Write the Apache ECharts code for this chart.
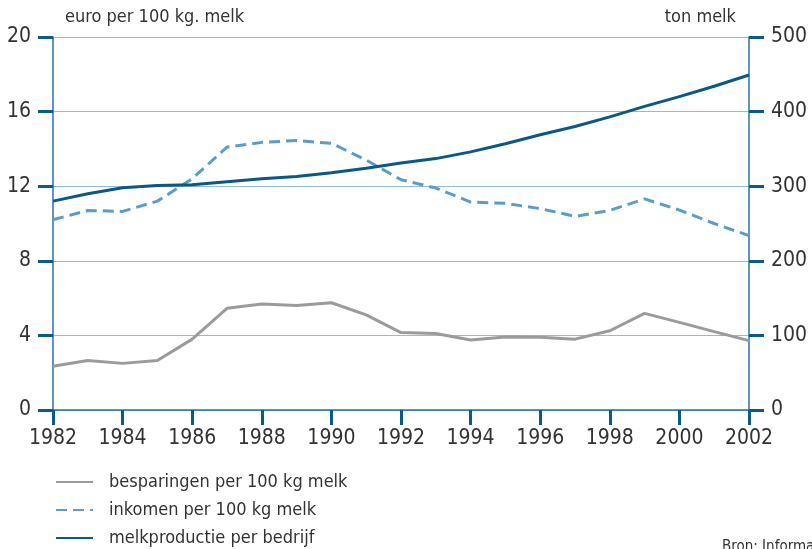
<!DOCTYPE html>
<html>
<head>
<meta charset="utf-8">
<script src="https://cdn.jsdelivr.net/npm/echarts@6/dist/echarts.min.js"></script>
<style>
  html, body { margin: 0; padding: 0; background: #fff; }
  #chart { width: 812px; height: 549px; }
</style>
</head>
<body>
<div id="chart"></div>
<script>
// Jaren 1982–2002
const years = [1982, 1983, 1984, 1985, 1986, 1987, 1988, 1989, 1990, 1991, 1992,
               1993, 1994, 1995, 1996, 1997, 1998, 1999, 2000, 2001, 2002];

// euro per 100 kg melk (linkeras)
const besparingen = [2.35, 2.65, 2.5, 2.65, 3.8, 5.45, 5.68, 5.6, 5.75, 5.1, 4.15,
                     4.1, 3.75, 3.92, 3.9, 3.8, 4.25, 5.18, 4.7, 4.2, 3.72];
const inkomen = [10.2, 10.7, 10.65, 11.2, 12.4, 14.1, 14.35, 14.45, 14.3, 13.4, 12.35,
                 11.9, 11.15, 11.08, 10.8, 10.38, 10.7, 11.32, 10.72, 10.0, 9.35];

// ton melk per bedrijf (rechteras)
const melkproductie = [280, 290, 298, 301, 302, 306, 310, 313, 318, 324, 331,
                       337, 346, 357, 369, 380, 393, 407, 420, 434, 449];

const seriesNames = ['besparingen per 100 kg melk', 'inkomen per 100 kg melk', 'melkproductie per bedrijf'];

const pairs = vals => years.map((y, i) => [y, vals[i]]);

const font = '"DejaVu Sans Condensed", "Liberation Sans Narrow", "Roboto", sans-serif';
const axisBlue = '#2a72a0';
const tickBlue = '#0d5a84';
const gridBlue = '#93bcd6';

const chart = echarts.init(document.getElementById('chart'));
chart.setOption({
  animation: false,
  textStyle: { fontFamily: font },
  grid: { left: 53, right: 63, top: 37, bottom: 139 },
  xAxis: {
    type: 'value', min: 1982, max: 2002, interval: 2,
    axisLine: { show: true, lineStyle: { color: axisBlue, width: 1.5 } },
    axisTick: { show: true, length: 15, lineStyle: { color: tickBlue, width: 3 } },
    axisLabel: { color: '#333', fontSize: 21, margin: 18, fontFamily: font, formatter: v => String(v) },
    splitLine: { show: false }
  },
  yAxis: [
    {
      type: 'value', min: 0, max: 20, interval: 4, position: 'left',
      axisLine: { show: true, lineStyle: { color: axisBlue, width: 1.5 } },
      axisTick: { show: true, length: 15, lineStyle: { color: tickBlue, width: 3 } },
      axisLabel: { color: '#333', fontSize: 21, margin: 22, fontFamily: font },
      splitLine: { show: true, lineStyle: { color: gridBlue, width: 1.2 } }
    },
    {
      type: 'value', min: 0, max: 500, interval: 100, position: 'right',
      axisLine: { show: true, lineStyle: { color: axisBlue, width: 1.5 } },
      axisTick: { show: true, length: 15, lineStyle: { color: tickBlue, width: 3 } },
      axisLabel: { color: '#333', fontSize: 21, margin: 22, fontFamily: font },
      splitLine: { show: false }
    }
  ],
  legend: {
    orient: 'vertical', left: 55, top: 473, height: 120, padding: 0,
    itemWidth: 37, itemHeight: 14, itemGap: 10,
    itemStyle: { opacity: 0 },
    textStyle: { color: '#333', fontSize: 18, fontFamily: font, padding: [0, 0, 0, 11] },
    data: seriesNames
  },
  graphic: [
    { type: 'text', left: 65, top: 8, style: { text: 'euro per 100 kg. melk', fill: '#333', font: '18px ' + font } },
    { type: 'text', right: 76, top: 8, style: { text: 'ton melk', fill: '#333', font: '18px ' + font } },
    { type: 'text', left: 722, top: 540, style: { text: 'Bron: Informatienet', fill: '#333', font: '15px ' + font } }
  ],
  series: [
    {
      name: seriesNames[0], type: 'line', yAxisIndex: 0, symbol: 'none',
      data: pairs(besparingen),
      lineStyle: { color: '#9a9b9d', width: 3 }, itemStyle: { color: '#9a9b9d' }
    },
    {
      name: seriesNames[1], type: 'line', yAxisIndex: 0, symbol: 'none',
      data: pairs(inkomen),
      lineStyle: { color: '#5d9dc4', width: 3, type: [11, 6] }, itemStyle: { color: '#5d9dc4' }
    },
    {
      name: seriesNames[2], type: 'line', yAxisIndex: 1, symbol: 'none',
      data: pairs(melkproductie),
      lineStyle: { color: '#0b5883', width: 3 }, itemStyle: { color: '#0b5883' }
    }
  ]
});
</script>
</body>
</html>
